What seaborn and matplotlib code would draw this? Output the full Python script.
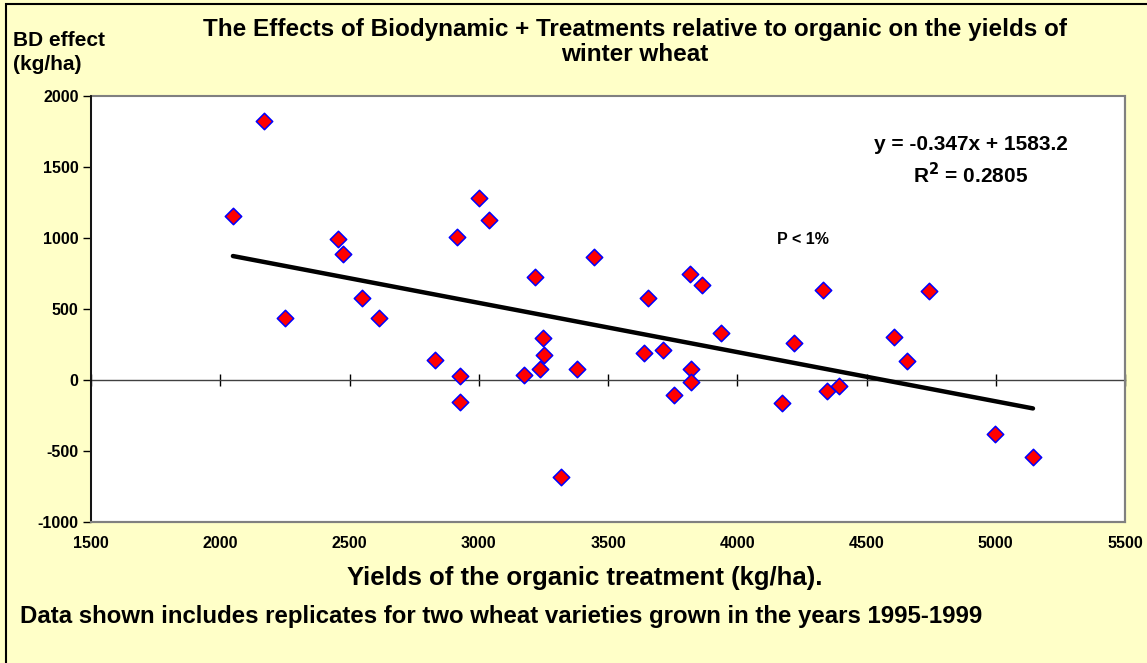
import matplotlib
matplotlib.use("Agg")
import matplotlib.pyplot as plt
import seaborn as sns
import numpy as np
import pandas as pd
from matplotlib.patches import Rectangle

# ---- data ----
organic_yield = [2049, 2170, 2252, 2457, 2475, 2550, 2614, 2829, 2917, 2926,
                 2929, 3001, 3041, 3174, 3218, 3237, 3250, 3254, 3317, 3379,
                 3444, 3638, 3656, 3712, 3754, 3817, 3820, 3820, 3864, 3938,
                 4172, 4218, 4330, 4346, 4392, 4608, 4657, 4740, 4996, 5144]
bd_effect = [1152, 1824, 438, 990, 889, 574, 436, 137, 1004, -154,
             29, 1281, 1126, 32, 727, 74, 297, 177, -687, 74,
             863, 191, 576, 210, -107, 743, 78, -15, 670, 330,
             -166, 261, 631, -79, -44, 304, 135, 628, -380, -542]
trend_slope = -0.347
trend_intercept = 1583.2
x_ticks = [1500, 2000, 2500, 3000, 3500, 4000, 4500, 5000, 5500]
y_ticks = [-1000, -500, 0, 500, 1000, 1500, 2000]

title_text = "The Effects of Biodynamic + Treatments relative to organic on the yields of\nwinter wheat"
ylabel_text = "BD effect\n(kg/ha)"
xlabel_text = "Yields of the organic treatment (kg/ha)."
note_text = "Data shown includes replicates for two wheat varieties grown in the years 1995-1999"
eq_text = "y = -0.347x + 1583.2"
r2_text = "R$^2$ = 0.2805"
p_text = "P < 1%"

df = pd.DataFrame({"organic": organic_yield, "effect": bd_effect})

sns.set_theme(style="white")
plt.rcParams['font.family'] = ['Liberation Sans', 'DejaVu Sans']
plt.rcParams['font.weight'] = 'bold'
plt.rcParams['mathtext.default'] = 'bf'
plt.rcParams['text.color'] = 'black'
plt.rcParams['xtick.color'] = 'black'
plt.rcParams['ytick.color'] = 'black'

W, H = 1147, 663
fig = plt.figure(figsize=(W / 100, H / 100), dpi=100)
bg = "#FFFFC8"
fig.patch.set_facecolor(bg)
# outer chart border (left/top visible)
fig.patches.append(Rectangle((6 / W, -0.05), 1.2, 1 - 4 / H + 0.05, transform=fig.transFigure,
                             fill=False, edgecolor="black", linewidth=1.5))

left, right, top, bottom = 91 / W, 1125 / W, 1 - 96 / H, 1 - 521.7 / H
ax = fig.add_axes([left, bottom, right - left, top - bottom])
ax.set_facecolor("white")

sns.scatterplot(data=df, x="organic", y="effect", marker="D", s=70,
                color="#FF0000", edgecolor="#0000FF", linewidth=1.1, ax=ax, zorder=4)

xmin, xmax = min(organic_yield), max(organic_yield)
tx = np.array([xmin, xmax])
ax.plot(tx, trend_slope * tx + trend_intercept, color="black", lw=3.2,
        solid_capstyle="round", zorder=3)

ax.set_xlim(1500, 5500)
ax.set_ylim(-1000, 2000)
ax.set_xticks(x_ticks)
ax.set_yticks(y_ticks)
ax.set_xticklabels([str(t) for t in x_ticks], fontsize=11.5, fontweight="bold", color="black")
ax.set_yticklabels([str(t) for t in y_ticks], fontsize=11.5, fontweight="bold", color="black")
ax.set_xlabel("")
ax.set_ylabel("")

for s in ["right", "bottom"]:
    ax.spines[s].set_color("#808080")
    ax.spines[s].set_linewidth(1.5)
ax.spines["left"].set_color("black")
ax.spines["left"].set_linewidth(1.2)
# top spine used as the zero axis line
ax.spines["top"].set_position(("data", 0))
ax.spines["top"].set_color("#404040")
ax.spines["top"].set_linewidth(1.0)
ax.spines["top"].set_zorder(2)
# gray top border of plot area
ax.add_patch(Rectangle((0, 0), 1, 1, transform=ax.transAxes, fill=False,
                       edgecolor="#808080", linewidth=1.5, zorder=1, clip_on=False))

ax.tick_params(axis="x", which="both", bottom=True, top=True, labelbottom=True, labeltop=False,
               length=0, pad=10, labelsize=11.5)
for t in ax.xaxis.get_major_ticks():
    t.tick2line.set_markersize(9)
    t.tick2line.set_marker("|")
    t.tick2line.set_color("black")
    t.tick2line.set_markeredgewidth(1)
ax.tick_params(axis="y", left=True, direction="out", length=6, width=1, color="black",
               pad=3, labelsize=11.5)

# texts
fig.text(635 / W, 1 - 18 / H, title_text, ha="center", va="top", fontsize=17.5,
         fontweight="bold", linespacing=1.12)
fig.text(13 / W, 1 - 31 / H, ylabel_text, ha="left", va="top", fontsize=15,
         fontweight="bold", linespacing=1.3)
fig.text(585 / W, 1 - 578 / H, xlabel_text, ha="center", va="center", fontsize=18.5,
         fontweight="bold")
fig.text(20 / W, 1 - 616 / H, note_text, ha="left", va="center", fontsize=17.3,
         fontweight="bold")
fig.text(971 / W, 1 - 144 / H, eq_text, ha="center", va="center", fontsize=15,
         fontweight="bold")
fig.text(971 / W, 1 - 175 / H, r2_text, ha="center", va="center", fontsize=15,
         fontweight="bold")
fig.text(803 / W, 1 - 239 / H, p_text, ha="center", va="center", fontsize=11.5,
         fontweight="bold")

fig.savefig("out.png", dpi=100, facecolor=fig.get_facecolor())
